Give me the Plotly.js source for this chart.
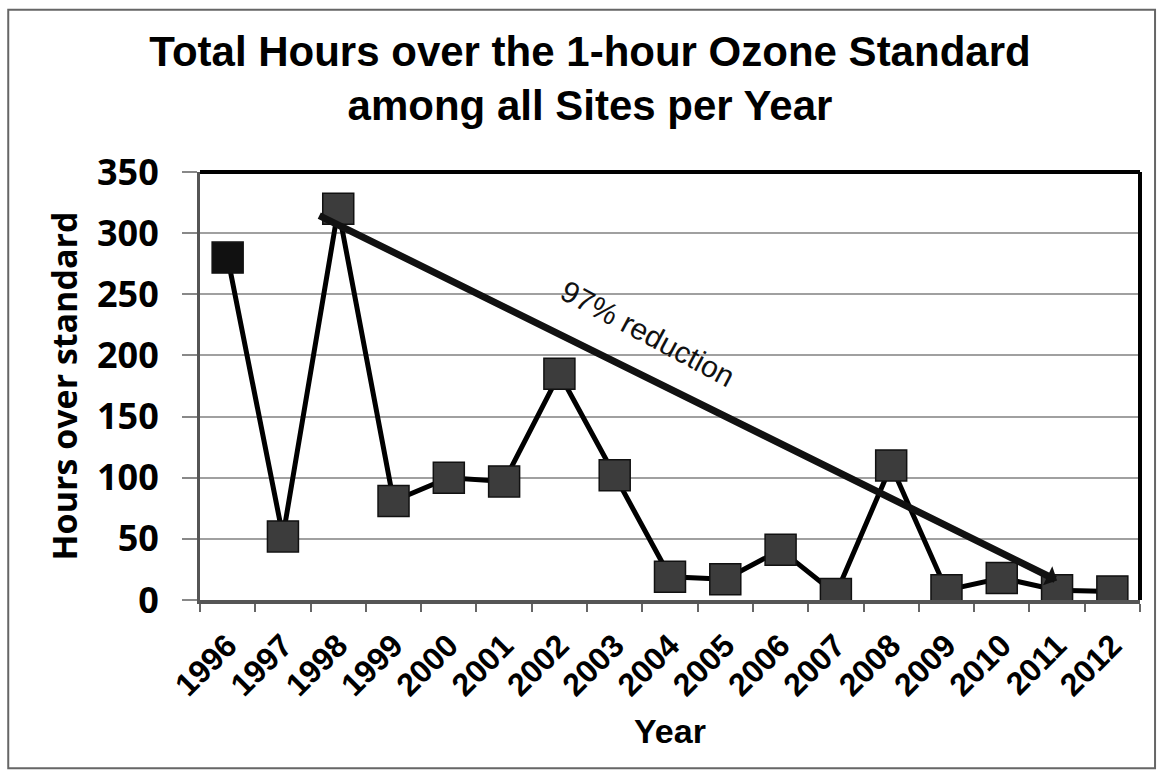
<!DOCTYPE html>
<html>
<head>
<meta charset="utf-8">
<script src="https://cdn.plot.ly/plotly-3.0.1.min.js"></script>
<style>html,body{margin:0;padding:0;background:#fff;}#chart{width:1158px;height:774px;}</style>
</head>
<body>
<div id="chart"></div>
<script>
const years = ["1996","1997","1998","1999","2000","2001","2002","2003","2004","2005","2006","2007","2008","2009","2010","2011","2012"];
const hoursOver = [280, 52, 320, 81, 100, 97, 185, 102, 19, 17, 41, 5, 110, 8, 18, 8, 7];
const yTicks = [0, 50, 100, 150, 200, 250, 300, 350];
const reductionLabel = "97% reduction";
// trend arrow: from the 1998 peak down to 2011
const arrowFrom = {x: 1.63, y: 315};
const arrowTo = {x: 15.0, y: 16};

const markerColors = years.map((y, i) => i === 0 ? "#111111" : "#3c3c3c");

const trace = {
  x: years,
  y: hoursOver,
  type: "scatter",
  mode: "lines+markers",
  line: {color: "#000000", width: 5},
  marker: {symbol: "square", size: 31, color: markerColors, line: {color: "#111111", width: 1.5}},
  hoverinfo: "x+y",
  showlegend: false
};

const layout = {
  width: 1158,
  height: 774,
  paper_bgcolor: "#ffffff",
  plot_bgcolor: "#ffffff",
  margin: {l: 200, r: 18, t: 172, b: 174},
  title: {
    text: "Total Hours over the 1-hour Ozone Standard<br>among all Sites per Year",
    font: {family: "Liberation Sans, Arial, sans-serif", size: 42, color: "#000", weight: "bold"},
    x: 0.5095, xanchor: "center", xref: "container",
    y: 0.915, yanchor: "top", yref: "container"
  },
  xaxis: {
    type: "category",
    range: [-0.5, 16.5],
    tickangle: -45,
    tickfont: {family: "Liberation Sans, Arial, sans-serif", size: 32, color: "#000", weight: "bold"},
    ticks: "outside",
    tickson: "boundaries",
    ticklen: 8,
    tickwidth: 2,
    tickcolor: "#666",
    ticklabelstandoff: 10,
    showgrid: false,
    showline: true,
    linecolor: "#555",
    linewidth: 4,
    zeroline: false,
    title: {text: "Year", font: {family: "Liberation Sans, Arial, sans-serif", size: 34, color: "#000", weight: "bold"}, standoff: 18},
    automargin: false
  },
  yaxis: {
    range: [0, 350],
    tickvals: yTicks,
    ticktext: yTicks.map(String),
    tickfont: {family: "Open Sans, sans-serif", size: 36, color: "#000", weight: "bold"},
    ticks: "outside",
    ticklen: 15,
    tickwidth: 2,
    tickcolor: "#888",
    ticklabelstandoff: 16,
    showgrid: true,
    gridcolor: "#a0a0a0",
    gridwidth: 2,
    showline: true,
    linecolor: "#555",
    linewidth: 3,
    zeroline: false,
    title: {text: "Hours over standard", font: {family: "Open Sans, sans-serif", size: 34, color: "#000", weight: "bold"}, standoff: 10},
    automargin: false
  },
  shapes: [
    {type: "line", xref: "paper", yref: "paper", x0: 0, x1: 1, y0: 1, y1: 1, line: {color: "#000", width: 4}},
    {type: "line", xref: "paper", yref: "paper", x0: 1, x1: 1, y0: 0, y1: 1, line: {color: "#000", width: 4}},
    {type: "rect", xref: "paper", yref: "paper", x0: -0.204, x1: 1.016, y0: -0.393, y1: 1.379, line: {color: "#666", width: 2}, layer: "below"}
  ],
  annotations: [
    {
      x: arrowTo.x, y: arrowTo.y, xref: "x", yref: "y",
      ax: arrowFrom.x, ay: arrowFrom.y, axref: "x", ayref: "y",
      text: "", showarrow: true, arrowhead: 1, arrowsize: 0.5, arrowwidth: 7, arrowcolor: "#111"
    },
    {
      x: 7.6, y: 218, xref: "x", yref: "y",
      text: reductionLabel, showarrow: false, textangle: 28,
      font: {family: "Liberation Sans, Arial, sans-serif", size: 30, color: "#111"}
    }
  ]
};

Plotly.newPlot("chart", [trace], layout, {displayModeBar: false, responsive: false});
</script>
</body>
</html>
